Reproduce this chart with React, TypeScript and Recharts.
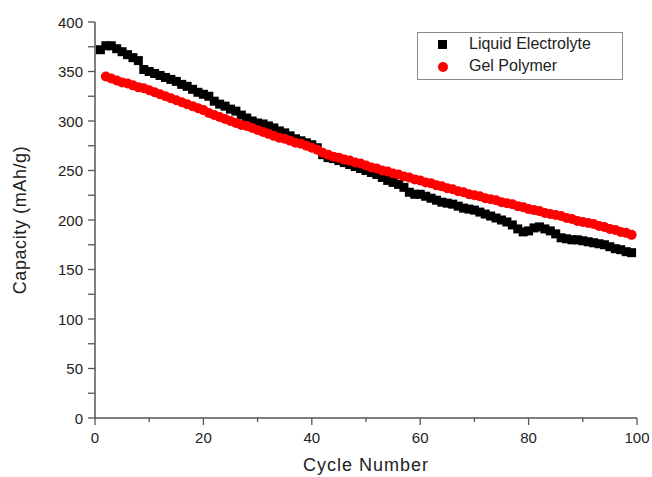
import React from 'react';
import { ScatterChart, Scatter, XAxis, YAxis, Legend } from 'recharts';

const liquidCycles = Array.from({ length: 99 }, (_, i) => i + 1);
const liquidCapacity = [
  372, 376, 376, 373, 370, 367, 364, 361, 352, 350,
  348, 346, 344, 342, 340, 337, 335, 332, 329, 327,
  325, 320, 317, 315, 312, 310, 306, 303, 300, 298,
  297, 295, 293, 290, 288, 285, 282, 280, 278, 276,
  273, 266, 263, 262, 260, 258, 256, 254, 252, 250,
  248, 246, 243, 240, 238, 236, 233, 228, 226, 226,
  224, 222, 220, 218, 217, 216, 214, 212, 211, 210,
  208, 206, 204, 202, 200, 198, 195, 191, 188, 189,
  192, 193, 191, 189, 186, 182, 181, 180, 180, 179,
  178, 177, 176, 175, 173, 171, 170, 168, 167,
];

const gelCycles = Array.from({ length: 98 }, (_, i) => i + 2);
const gelCapacity = [
  345, 343, 341, 339, 338, 336, 334, 333, 331,
  329, 327, 325, 323, 321, 319, 317, 315, 313, 311,
  308, 306, 304, 302, 300, 298, 296, 295, 293, 291,
  289, 287, 285, 283, 282, 280, 278, 277, 275, 273,
  271, 268, 266, 264, 263, 261, 260, 258, 257, 255,
  253, 252, 250, 249, 247, 246, 244, 243, 241, 240,
  238, 237, 235, 234, 232, 231, 229, 228, 226, 225,
  224, 222, 221, 220, 218, 217, 216, 214, 213, 211,
  210, 209, 207, 206, 205, 204, 202, 201, 199, 198,
  197, 196, 194, 193, 191, 190, 188, 187, 185,
];

const xTicks = [0, 10, 20, 30, 40, 50, 60, 70, 80, 90, 100];
const yTicks = [0, 25, 50, 75, 100, 125, 150, 175, 200, 225, 250, 275, 300, 325, 350, 375, 400];
const seriesNames = ['Liquid Electrolyte', 'Gel Polymer'];

const liquidData = liquidCycles.map((c, i) => ({ x: c, y: liquidCapacity[i] }));
const gelData = gelCycles.map((c, i) => ({ x: c, y: gelCapacity[i] }));

const FONT = '"Liberation Sans", Arial, sans-serif';
const AXIS = '#555';
const TEXT = '#222';

const YTick = (props: any) => {
  const { x, y, payload } = props;
  const major = payload.value % 50 === 0;
  return (
    <g>
      <line x1={x - 7} x2={x} y1={y} y2={y} stroke={AXIS} strokeWidth={1.3} />
      {major && (
        <text x={x - 12} y={y + 5.5} textAnchor="end" fontSize={15} fill={TEXT} fontFamily={FONT}>
          {payload.value}
        </text>
      )}
    </g>
  );
};

const XTick = (props: any) => {
  const { x, y, payload } = props;
  const major = payload.value % 20 === 0;
  return (
    <g>
      <line x1={x} x2={x} y1={y} y2={y + (major ? 7 : 4)} stroke={AXIS} strokeWidth={1.3} />
      {major && (
        <text x={x} y={y + 25} textAnchor="middle" fontSize={15} fill={TEXT} fontFamily={FONT}>
          {payload.value}
        </text>
      )}
    </g>
  );
};

const Square = (props: any) => {
  const { cx, cy } = props;
  return <rect x={cx - 4.5} y={cy - 4.5} width={9} height={9} fill="#000" />;
};
const Dot = (props: any) => {
  const { cx, cy } = props;
  return <circle cx={cx} cy={cy} r={5} fill="#ff0000" />;
};

const LegendBox = () => (
  <div
    style={{
      border: '1px solid #888',
      width: 206,
      height: 48,
      boxSizing: 'border-box',
      background: '#fff',
      fontFamily: FONT,
      fontSize: 16,
      color: TEXT,
      position: 'relative',
    }}
  >
    <div style={{ position: 'absolute', left: 20, top: 7, width: 9, height: 9, background: '#000' }} />
    <div style={{ position: 'absolute', left: 51, top: 2, lineHeight: '18px' }}>{seriesNames[0]}</div>
    <div style={{ position: 'absolute', left: 20, top: 29, width: 10, height: 10, borderRadius: 5, background: '#ff0000' }} />
    <div style={{ position: 'absolute', left: 51, top: 24, lineHeight: '18px' }}>{seriesNames[1]}</div>
  </div>
);

export default function App() {
  return (
    <div style={{ position: 'absolute', left: 0, top: 0, width: 652, height: 477, background: '#fff' }}>
      <ScatterChart width={652} height={477} margin={{ top: 22, right: 15, bottom: 0, left: 0 }}>
        <XAxis
          type="number"
          dataKey="x"
          domain={[0, 100]}
          ticks={xTicks}
          interval={0}
          height={59}
          tickSize={0}
          tickMargin={0}
          tickLine={false}
          tick={<XTick />}
          axisLine={{ stroke: AXIS, strokeWidth: 1.5 }}
          label={{ value: 'Cycle Number', position: 'insideBottom', offset: 6, fontSize: 18, fill: TEXT, fontFamily: FONT, style: { letterSpacing: 1 } }}
        />
        <YAxis
          type="number"
          dataKey="y"
          domain={[0, 400]}
          ticks={yTicks}
          interval={0}
          width={95}
          tickSize={0}
          tickMargin={0}
          tickLine={false}
          tick={<YTick />}
          axisLine={{ stroke: AXIS, strokeWidth: 1.5 }}
          label={{ value: 'Capacity (mAh/g)', angle: -90, position: 'insideLeft', offset: 20, fontSize: 18, fill: TEXT, fontFamily: FONT, style: { textAnchor: 'middle', letterSpacing: 0.6 } }}
        />
        <Legend
          layout="vertical"
          align="center"
          verticalAlign="middle"
          content={<LegendBox />}
          wrapperStyle={{ top: 32, left: 417, width: 206, height: 48 }}
        />
        <Scatter name={seriesNames[0]} data={liquidData} shape={<Square />} isAnimationActive={false} />
        <Scatter name={seriesNames[1]} data={gelData} shape={<Dot />} isAnimationActive={false} />
      </ScatterChart>
    </div>
  );
}
